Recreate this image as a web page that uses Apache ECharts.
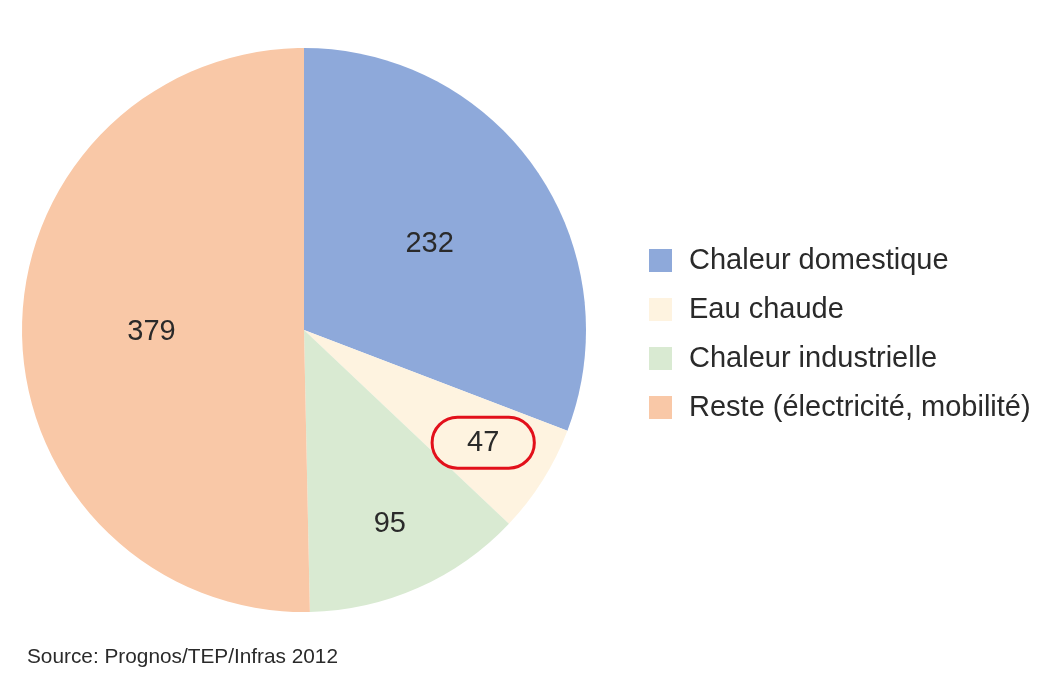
<!DOCTYPE html>
<html>
<head>
<meta charset="utf-8">
<script src="https://cdn.jsdelivr.net/npm/echarts@6/dist/echarts.min.js"></script>
<style>
html,body{margin:0;padding:0;background:#fff;}
#chart{width:1060px;height:674px;}
</style>
</head>
<body>
<div id="chart"></div>
<script>
// NOTE: the slices are sized from the printed values (232, 47, 95, 379).
// In the reference the slices don't match their own labels (the blue slice covers
// about 126 degrees, where 232/753 would give about 111), so the slice angles here
// are different from the reference on purpose.
const categories = ['Chaleur domestique', 'Eau chaude', 'Chaleur industrielle', 'Reste (électricité, mobilité)'];
const values = [232, 47, 95, 379];
const colors = ['#8EA9DA', '#FEF3E0', '#D9EAD2', '#F9C8A7'];
const highlighted = ['Eau chaude'];
const sourceText = 'Source: Prognos/TEP/Infras 2012';

const FONT = '"Liberation Sans", Arial, Helvetica, sans-serif';
const R = 282;
const total = values.reduce((a, b) => a + b, 0);
// mid angles (clockwise from top) for label radial push
const midAngles = [];
let acc = 0;
values.forEach(v => { midAngles.push((acc + v / 2) / total * 2 * Math.PI); acc += v; });

const chart = echarts.init(document.getElementById('chart'), null, {renderer: 'canvas'});

const data = categories.map((name, i) => {
  const item = {name: name, value: values[i], itemStyle: {color: colors[i]}};
  if (highlighted.includes(name)) {
    item.label = {
      borderColor: '#E2101B',
      borderWidth: 3,
      borderRadius: 28,
      padding: [11, 35, 11, 35]
    };
  }
  return item;
});

chart.setOption({
  animation: false,
  legend: {
    orient: 'vertical',
    left: 644,
    top: 241,
    itemWidth: 23,
    itemHeight: 23,
    itemGap: 20,
    icon: 'rect',
    selectedMode: false,
    data: categories,
    textStyle: {
      fontFamily: FONT,
      fontSize: 29,
      lineHeight: 29,
      color: '#2a2a2a',
      padding: [0, 0, 0, 12]
    }
  },
  graphic: [{
    type: 'text',
    left: 27,
    top: 647,
    style: {
      text: sourceText,
      font: '20.8px ' + FONT,
      fill: '#2a2a2a'
    }
  }],
  series: [{
    type: 'pie',
    center: [304, 330],
    radius: [0, R],
    startAngle: 90,
    clockwise: true,
    avoidLabelOverlap: false,
    silent: true,
    itemStyle: {borderWidth: 0},
    label: {
      show: true,
      position: 'inside',
      formatter: '{c}',
      fontFamily: FONT,
      fontSize: 29,
      color: '#2a2a2a'
    },
    labelLine: {show: false},
    labelLayout: function (p) {
      const i = p.dataIndex;
      const share = values[i] / total;
      const extra = share < 0.2 ? 0.24 * R : 0.03 * R;
      const a = midAngles[i];
      return {dx: extra * Math.sin(a), dy: -extra * Math.cos(a)};
    },
    data: data
  }]
});
</script>
</body>
</html>
